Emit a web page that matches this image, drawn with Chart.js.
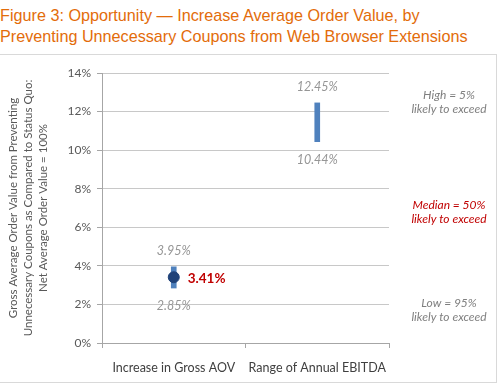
<!DOCTYPE html>
<html>
<head>
<meta charset="utf-8">
<script src="https://cdn.jsdelivr.net/npm/chart.js@4"></script>
<style>
  body { margin: 0; background: #fff; width: 500px; height: 385px; overflow: hidden; position: relative; }
  #title { position: absolute; left: 0; top: 5px; font: 16.2px "Liberation Sans", Arial, sans-serif; color: #e36c0a; line-height: 21px; white-space: nowrap; }
  #box { position: absolute; left: 0; top: 54px; width: 496px; height: 327px; border: 1px solid #d9d9d9; border-left: none; }
  #box canvas { display: block; }
</style>
</head>
<body>
<div id="title">Figure 3: Opportunity — Increase Average Order Value, by<br>Preventing Unnecessary Coupons from Web Browser Extensions</div>
<div id="box"><canvas id="chart" width="496" height="327"></canvas></div>
<script>
  // values
  const categories = ['Increase in Gross AOV', 'Range of Annual EBITDA'];
  const lowValues = [2.85, 10.44];
  const highValues = [3.95, 12.45];
  const medianValues = [3.41, null];
  const yTicks = [0, 2, 4, 6, 8, 10, 12, 14];
  const yTitle = ['Gross Average Order Value from Preventing', 'Unnecessary Coupons as Compared to Status Quo:', 'Net Average Order Value = 100%'];
  const sideNotes = [
    { lines: ['High = 5%', 'likely to exceed'], color: '#7f7f7f', y: 95 },
    { lines: ['Median = 50%', 'likely to exceed'], color: '#c00000', y: 205 },
    { lines: ['Low = 95%', 'likely to exceed'], color: '#7f7f7f', y: 303 }
  ];

  const FONT = 'Lato, "Open Sans", sans-serif';

  // labels next to the bars / point, plus y title and side notes
  const labelPlugin = {
    id: 'labels',
    afterDatasetsDraw(chart) {
      const ctx = chart.ctx;
      const x = chart.scales.x, y = chart.scales.y;
      ctx.save();
      ctx.textAlign = 'center';
      ctx.textBaseline = 'middle';
      ctx.font = 'italic 12.5px ' + FONT;
      ctx.fillStyle = '#969696';
      categories.forEach((c, i) => {
        const px = x.getPixelForValue(i);
        ctx.fillText(highValues[i].toFixed(2) + '%', px, y.getPixelForValue(highValues[i]) - 16);
        ctx.fillText(lowValues[i].toFixed(2) + '%', px, y.getPixelForValue(lowValues[i]) + 18);
        if (medianValues[i] != null) {
          ctx.save();
          ctx.font = 'bold 13.5px ' + FONT;
          ctx.fillStyle = '#c00000';
          ctx.textAlign = 'left';
          ctx.fillText(medianValues[i].toFixed(2) + '%', px + 14, y.getPixelForValue(medianValues[i]) + 1);
          ctx.restore();
        }
      });
      // side notes
      ctx.font = 'italic 12px ' + FONT;
      sideNotes.forEach(n => {
        ctx.fillStyle = n.color;
        n.lines.forEach((l, k) => ctx.fillText(l, 449, n.y - 55 + k * 14));
      });
      // rotated y title
      ctx.font = '11.5px ' + FONT;
      ctx.fillStyle = '#595959';
      const cy = (chart.chartArea.top + chart.chartArea.bottom) / 2;
      yTitle.forEach((l, k) => {
        ctx.save();
        ctx.translate(13 + k * 15, cy);
        ctx.rotate(-Math.PI / 2);
        ctx.fillText(l, 0, 0);
        ctx.restore();
      });
      ctx.restore();
    }
  };

  const ctx = document.getElementById('chart').getContext('2d');
  new Chart(ctx, {
    data: {
      labels: categories,
      datasets: [
        {
          type: 'line',
          data: medianValues,
          showLine: false,
          pointRadius: 5.5,
          pointBackgroundColor: '#1f4279',
          pointBorderColor: '#1f4279',
          order: 0
        },
        {
          type: 'bar',
          data: categories.map((c, i) => [lowValues[i], highValues[i]]),
          backgroundColor: '#4f81bd',
          barThickness: 5,
          order: 1
        }
      ]
    },
    options: {
      responsive: false,
      animation: false,
      layout: { padding: { left: 0, right: 107, top: 18, bottom: 0 } },
      plugins: { legend: { display: false }, tooltip: { enabled: false } },
      scales: {
        x: {
          offset: true,
          grid: { offset: true, drawOnChartArea: false, drawTicks: true, tickLength: 5, tickColor: '#a6a6a6' },
          border: { color: '#a6a6a6' },
          ticks: { color: '#404040', font: { family: FONT, size: 12.5 }, padding: 12 },
          afterFit: s => { s.height = 39; }
        },
        y: {
          min: 0,
          max: 14,
          afterBuildTicks: s => { s.ticks = yTicks.map(v => ({ value: v })); },
          grid: { color: '#c8c8c8', borderDash: [4, 3], tickLength: 5, tickColor: '#a6a6a6', tickBorderDash: [] },
          border: { color: '#a6a6a6' },
          ticks: { color: '#595959', font: { family: FONT, size: 12 }, padding: 6, callback: v => v + '%' },
          afterFit: s => { s.width = 102; }
        }
      }
    },
    plugins: [labelPlugin]
  });
</script>
</body>
</html>
